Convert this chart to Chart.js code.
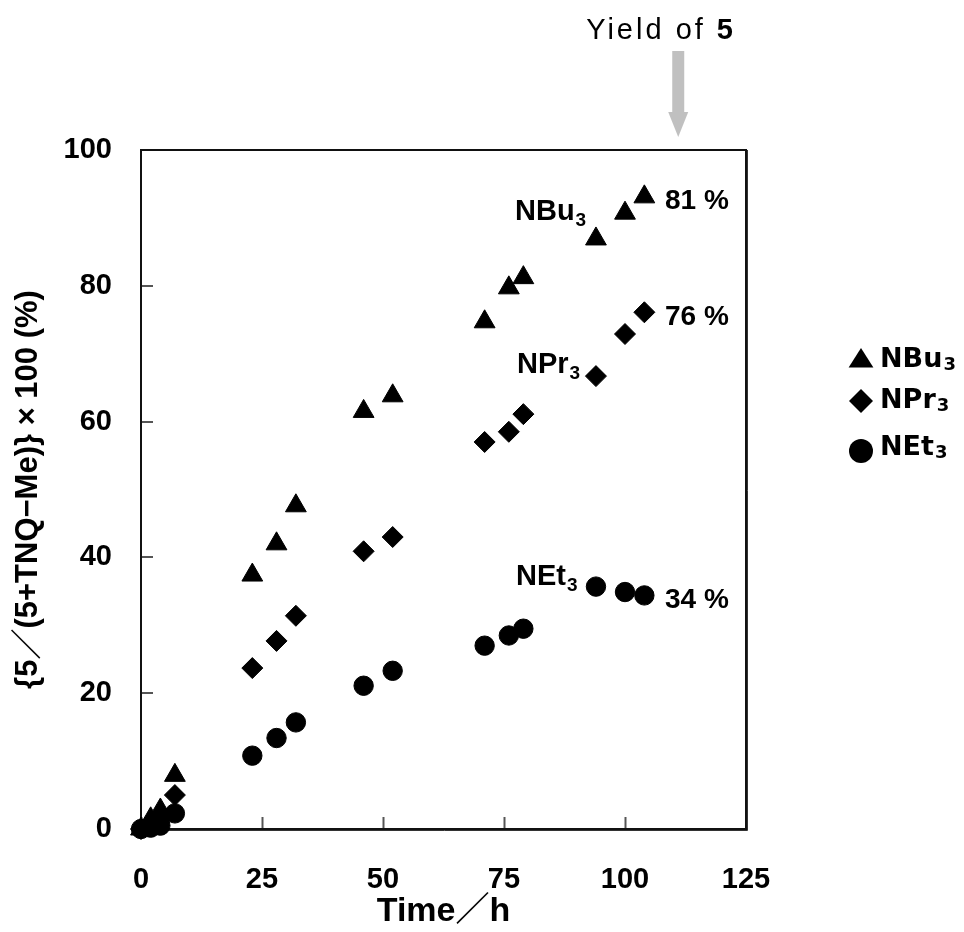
<!DOCTYPE html>
<html><head><meta charset="utf-8">
<script src="https://cdn.jsdelivr.net/npm/chart.js@4.4.0/dist/chart.umd.min.js"></script>
<style>html,body{margin:0;padding:0;background:#fff;} canvas{display:block;}</style>
</head><body>
<canvas id="c" width="964" height="932" style="width:964px;height:932px"></canvas>
<script>
// ---- data ----
const timeH = [0, 2, 4, 7, 23, 28, 32, 46, 52, 71, 76, 79, 94, 100, 104];
const nbu3 = [0, 1.5, 2.8, 7.9, 37.4, 42.0, 47.6, 61.5, 63.8, 74.7, 79.7, 81.2, 86.9, 90.7, 93.1];
const npr3 = [0, 0.5, 1.4, 5.0, 23.7, 27.7, 31.4, 40.9, 43.0, 57.0, 58.5, 61.1, 66.7, 72.9, 76.1];
const net3 = [0, 0.2, 0.5, 2.3, 10.8, 13.4, 15.7, 21.1, 23.3, 27.0, 28.5, 29.5, 35.7, 34.9, 34.4];
const seriesNames = ['NBu', 'NPr', 'NEt'];
const seriesSub = '3';
const yieldLabels = ['81 %', '76 %', '34 %'];
const xTickValues = [0, 25, 50, 75, 100, 125];
const yTickValues = [0, 20, 40, 60, 80, 100];
const yieldArrowTime = 111;
const yTitle = '{5\uFF0F(5+TNQ\u2212Me)} \u00D7 100 (%)';
const xTitle = 'Time\uFF0Fh';

function pts(ys) { return timeH.map((t, i) => ({x: t, y: ys[i]})); }

function drawSubText(ctx, main, sub, x, y, font, subFont, drop) {
  ctx.font = font;
  ctx.textAlign = 'left';
  ctx.textBaseline = 'alphabetic';
  ctx.fillText(main, x, y);
  const w = ctx.measureText(main).width;
  ctx.font = subFont;
  ctx.fillText(sub, x + w + 1, y + drop);
}

function drawMarker(ctx, style, x, y, r) {
  ctx.beginPath();
  if (style === 'triangle') {
    ctx.moveTo(x, y - r);
    ctx.lineTo(x + Math.sin(2*Math.PI/3) * r, y + r/2);
    ctx.lineTo(x - Math.sin(2*Math.PI/3) * r, y + r/2);
  } else if (style === 'rectRot') {
    ctx.moveTo(x, y - r); ctx.lineTo(x + r, y); ctx.lineTo(x, y + r); ctx.lineTo(x - r, y);
  } else {
    ctx.arc(x, y, r, 0, Math.PI*2);
  }
  ctx.closePath();
  ctx.fill();
}

const deco = {
  id: 'deco',
  beforeDatasetsDraw(chart) {
    const {ctx, chartArea: a, scales} = chart;
    ctx.save();
    // inward ticks
    ctx.strokeStyle = '#555';
    ctx.lineWidth = 2;
    xTickValues.forEach(v => {
      const px = Math.round(scales.x.getPixelForValue(v)) + 0.5;
      ctx.beginPath(); ctx.moveTo(px, a.bottom); ctx.lineTo(px, a.bottom - 12); ctx.stroke();
    });
    yTickValues.forEach(v => {
      const py = Math.round(scales.y.getPixelForValue(v));
      ctx.beginPath(); ctx.moveTo(a.left, py); ctx.lineTo(a.left + 12, py); ctx.stroke();
    });
    // frame
    ctx.strokeStyle = '#111';
    ctx.lineWidth = 2;
    ctx.strokeRect(a.left, a.top, a.right - a.left, a.bottom - a.top);
    ctx.lineWidth = 1;
    ctx.strokeStyle = '#333';
    ctx.beginPath();
    ctx.moveTo(a.left, a.bottom + 1.5); ctx.lineTo(a.right + 1.5, a.bottom + 1.5); ctx.lineTo(a.right + 1.5, a.top);
    ctx.stroke();
    ctx.restore();
  },
  afterDraw(chart) {
    const {ctx, scales} = chart;
    const X = v => scales.x.getPixelForValue(v);
    ctx.save();
    ctx.fillStyle = '#000';
    // series name annotations
    const nameFont = 'bold 29px "Liberation Sans", Arial, sans-serif';
    const nameSub = 'bold 19px "Liberation Sans", Arial, sans-serif';
    drawSubText(ctx, seriesNames[0], seriesSub, 515, 220, nameFont, nameSub, 6);
    drawSubText(ctx, seriesNames[1], seriesSub, 517, 373, nameFont, nameSub, 6);
    drawSubText(ctx, seriesNames[2], seriesSub, 516, 585, nameFont, nameSub, 6);
    // yields
    ctx.font = 'bold 28px "Liberation Sans", Arial, sans-serif';
    ctx.textAlign = 'left'; ctx.textBaseline = 'alphabetic';
    ctx.fillText(yieldLabels[0], 665, 209);
    ctx.fillText(yieldLabels[1], 665, 325);
    ctx.fillText(yieldLabels[2], 665, 608);
    // Yield of 5
    ctx.font = '29px "Liberation Sans", Arial, sans-serif';
    try { ctx.letterSpacing = '3px'; } catch (e) {}
    const t1 = 'Yield of ';
    const w1 = ctx.measureText(t1).width;
    ctx.font = 'bold 29px "Liberation Sans", Arial, sans-serif';
    const w2 = ctx.measureText('5').width;
    const ax = X(yieldArrowTime);
    const startX = 736 - w1 - w2;
    ctx.font = '29px "Liberation Sans", Arial, sans-serif';
    ctx.fillText(t1, startX, 39);
    ctx.font = 'bold 29px "Liberation Sans", Arial, sans-serif';
    ctx.fillText('5', startX + w1, 39);
    try { ctx.letterSpacing = '0px'; } catch (e) {}
    // arrow
    ctx.fillStyle = '#c0c0c0';
    ctx.fillRect(ax - 6, 51, 12, 62);
    ctx.beginPath();
    ctx.moveTo(ax - 10, 112); ctx.lineTo(ax + 10, 112); ctx.lineTo(ax, 137); ctx.closePath();
    ctx.fill();
    // legend
    ctx.fillStyle = '#000';
    const legFont = 'bold 27px "DejaVu Sans", sans-serif';
    const legSub = 'bold 18px "DejaVu Sans", sans-serif';
    ctx.save();
    ctx.translate(861, 361); ctx.scale(1.1, 1);
    drawMarker(ctx, 'triangle', 0, 0, 13);
    ctx.restore();
    drawSubText(ctx, seriesNames[0], seriesSub, 880, 367, legFont, legSub, 3);
    drawMarker(ctx, 'rectRot', 861, 401, 12);
    drawSubText(ctx, seriesNames[1], seriesSub, 880, 408, legFont, legSub, 3);
    drawMarker(ctx, 'circle', 861, 451, 12);
    drawSubText(ctx, seriesNames[2], seriesSub, 880, 455, legFont, legSub, 3);
    ctx.restore();
  }
};

new Chart(document.getElementById('c'), {
  type: 'scatter',
  data: {
    datasets: [
      {label: 'NBu3', data: pts(nbu3), pointStyle: 'triangle', pointRadius: 12, backgroundColor: '#000', borderColor: '#000', borderWidth: 1, clip: false},
      {label: 'NPr3', data: pts(npr3), pointStyle: 'rectRot', pointRadius: 10.5, backgroundColor: '#000', borderColor: '#000', borderWidth: 1, clip: false},
      {label: 'NEt3', data: pts(net3), pointStyle: 'circle', pointRadius: 9.7, backgroundColor: '#000', borderColor: '#000', borderWidth: 1, clip: false}
    ]
  },
  options: {
    responsive: false,
    animation: false,
    devicePixelRatio: 1,
    layout: {padding: {left: 0, top: 150, right: 218, bottom: 0}},
    plugins: {legend: {display: false}, tooltip: {enabled: false}},
    scales: {
      x: {
        type: 'linear', min: 0, max: 125,
        afterBuildTicks: s => { s.ticks = xTickValues.map(v => ({value: v})); },
        afterFit: s => { s.height = 103; },
        grid: {display: false, drawTicks: false},
        border: {display: false},
        ticks: {padding: 34, color: '#000', font: {family: '"Liberation Sans", Arial', weight: 'bold', size: 29}, maxRotation: 0},
        title: {display: true, text: xTitle, color: '#000', padding: {top: 0, bottom: 0}, font: {family: '"Liberation Sans", "Noto Sans CJK JP", Arial', weight: 'bold', size: 34}}
      },
      y: {
        type: 'linear', min: 0, max: 100,
        afterBuildTicks: s => { s.ticks = yTickValues.map(v => ({value: v})); },
        afterFit: s => { s.width = 141; },
        grid: {display: false, drawTicks: false},
        border: {display: false},
        ticks: {padding: 29, color: '#000', font: {family: '"Liberation Sans", Arial', weight: 'bold', size: 29}},
        title: {display: true, text: yTitle, color: '#000', padding: {top: 10, bottom: 0}, font: {family: '"Liberation Sans", "Noto Sans CJK JP", Arial', weight: 'bold', size: 31}}
      }
    }
  },
  plugins: [deco]
});
</script>
</body></html>
